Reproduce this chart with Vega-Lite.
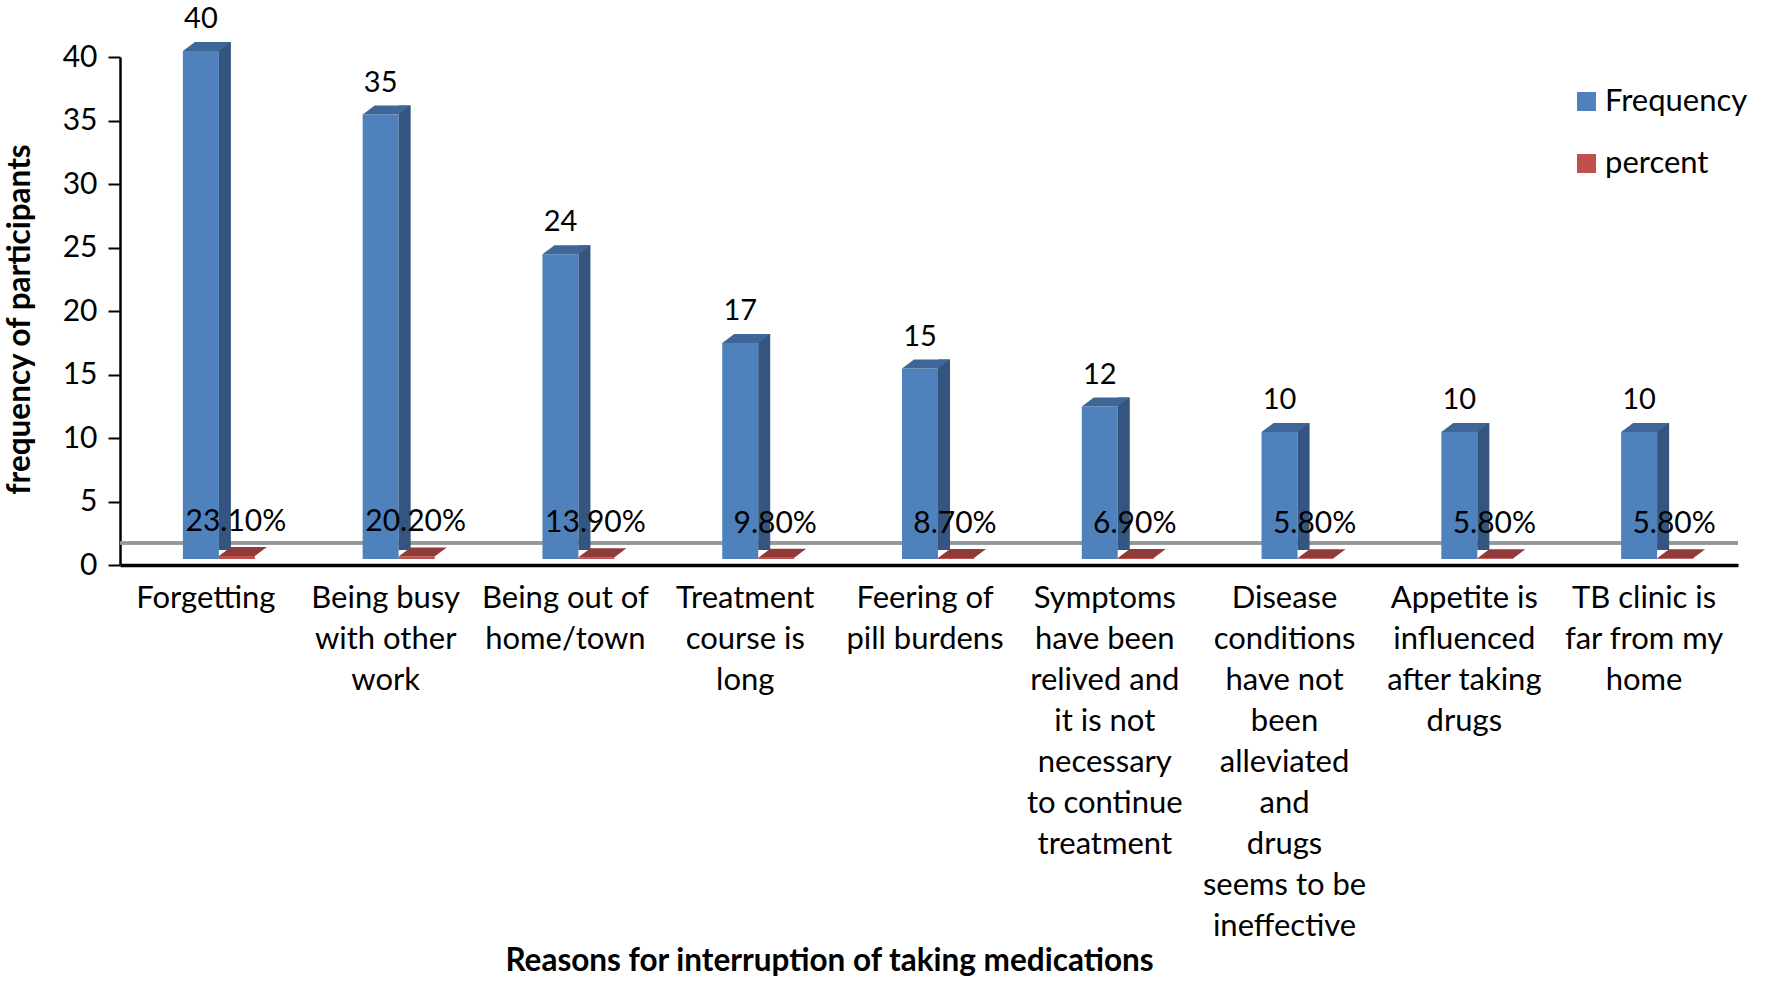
{
  "$schema": "https://vega.github.io/schema/vega-lite/v6.json",
  "width": 1618,
  "height": 508,
  "autosize": {"type": "none"},
  "padding": {"left": 120, "top": 57, "right": 31, "bottom": 417},
  "background": "white",
  "config": {
    "font": "Lato",
    "view": {"stroke": null},
    "axis": {"labelFont": "Lato", "titleFont": "Lato", "labelColor": "black", "titleColor": "black"}
  },
  "data": {
    "values": [
      {"reason": "Forgetting", "Frequency": 40, "percent": 0.231},
      {"reason": "Being busy with other work", "Frequency": 35, "percent": 0.202},
      {"reason": "Being out of home/town", "Frequency": 24, "percent": 0.139},
      {"reason": "Treatment course is long", "Frequency": 17, "percent": 0.098},
      {"reason": "Feering of pill burdens", "Frequency": 15, "percent": 0.087},
      {"reason": "Symptoms have been relived and it is not necessary to continue treatment", "Frequency": 12, "percent": 0.069},
      {"reason": "Disease conditions have not been alleviated and drugs seems to be ineffective", "Frequency": 10, "percent": 0.058},
      {"reason": "Appetite is influenced after taking drugs", "Frequency": 10, "percent": 0.058},
      {"reason": "TB clinic is far from my home", "Frequency": 10, "percent": 0.058}
    ]
  },
  "encoding": {
    "x": {
      "field": "reason",
      "type": "nominal",
      "sort": null,
      "scale": {"paddingInner": 0, "paddingOuter": 0},
      "axis": {
        "title": "Reasons for interruption of taking medications",
        "titleFontSize": 31.5,
        "titleFontWeight": "bold",
        "titleX": 709,
        "titleY": 396,
        "titleBaseline": "middle",
        "titleAlign": "center",
        "labelAngle": 0,
        "labelFontSize": 31,
        "labelLineHeight": 41,
        "labelPadding": 18,
        "labelOffset": -4,
        "labelLimit": 0,
        "ticks": false,
        "domainColor": "black",
        "domainWidth": 3.5,
        "labelExpr": "{'Forgetting':['Forgetting'],'Being busy with other work':['Being busy','with other','work'],'Being out of home/town':['Being out of','home/town'],'Treatment course is long':['Treatment','course is','long'],'Feering of pill burdens':['Feering of','pill burdens'],'Symptoms have been relived and it is not necessary to continue treatment':['Symptoms','have been','relived and','it is not','necessary','to continue','treatment'],'Disease conditions have not been alleviated and drugs seems to be ineffective':['Disease','conditions','have not','been','alleviated','and','drugs','seems to be','ineffective'],'Appetite is influenced after taking drugs':['Appetite is','influenced','after taking','drugs'],'TB clinic is far from my home':['TB clinic is','far from my','home']}[datum.value]"
      }
    }
  },
  "layer": [
    {
      "mark": {"type": "rule", "color": "#969696", "strokeWidth": 2.5, "yOffset": -22, "y2Offset": -22},
      "encoding": {"x": null, "y": {"datum": 0, "type": "quantitative"}}
    },
    {
      "mark": {"type": "bar", "width": 36, "xOffset": -9, "yOffset": -6},
      "encoding": {
        "y": {
          "field": "Frequency",
          "type": "quantitative",
          "scale": {"domain": [0, 40]},
          "axis": {
            "values": [0, 5, 10, 15, 20, 25, 30, 35, 40],
            "title": "frequency of participants",
            "titleFontSize": 31.5,
            "titleFontWeight": "bold",
            "titlePadding": 26,
            "titleY": 262,
            "labelFontSize": 30,
            "labelPadding": 11,
            "tickSize": 12,
            "tickWidth": 2,
            "tickColor": "black",
            "domainColor": "black",
            "domainWidth": 2.5,
            "grid": false
          }
        },
        "color": {
          "datum": "Frequency",
          "scale": {"domain": ["Frequency", "percent"], "range": ["#4F81BD", "#C0504D"]},
          "legend": {
            "title": null,
            "orient": "none",
            "legendX": 1451,
            "legendY": 29,
            "labelFontSize": 31,
            "labelFont": "Lato",
            "labelColor": "black",
            "symbolType": "square",
            "symbolSize": 361,
            "symbolStrokeWidth": 0,
            "rowPadding": 30,
            "labelOffset": 3
          }
        }
      }
    },
    {
      "mark": {"type": "bar", "width": 12, "xOffset": 15, "yOffset": -15, "y2Offset": -6, "color": "#34557F"},
      "encoding": {"y": {"field": "Frequency", "type": "quantitative"}}
    },
    {
      "mark": {"type": "point", "shape": "M -1 0 L 0.5 0 L 1 -0.375 L -0.5 -0.375 Z", "size": 2304, "filled": true, "opacity": 1, "strokeWidth": 0, "xOffset": -3, "yOffset": -6, "color": "#3E6797"},
      "encoding": {"y": {"field": "Frequency", "type": "quantitative"}}
    },
    {
      "mark": {"type": "bar", "width": 36, "xOffset": 27, "yOffset": -6},
      "encoding": {
        "y": {"field": "percent", "type": "quantitative"},
        "color": {"datum": "percent"}
      }
    },
    {
      "mark": {"type": "point", "shape": "M -1 0 L 0.5 0 L 1 -0.375 L -0.5 -0.375 Z", "size": 2304, "filled": true, "opacity": 1, "strokeWidth": 0, "xOffset": 33, "yOffset": -6, "color": "#8E3B39"},
      "encoding": {"y": {"field": "percent", "type": "quantitative"}}
    },
    {
      "mark": {"type": "text", "fontSize": 29, "font": "Lato", "color": "black", "baseline": "alphabetic", "align": "center", "xOffset": -9, "dy": -29},
      "encoding": {
        "y": {"field": "Frequency", "type": "quantitative"},
        "text": {"field": "Frequency", "type": "quantitative"}
      }
    },
    {
      "mark": {"type": "text", "fontSize": 30, "font": "Lato", "color": "black", "baseline": "alphabetic", "align": "center", "xOffset": 26, "dy": -31},
      "encoding": {
        "y": {"field": "percent", "type": "quantitative"},
        "text": {"field": "percent", "type": "quantitative", "format": ".2%"}
      }
    }
  ]
}
